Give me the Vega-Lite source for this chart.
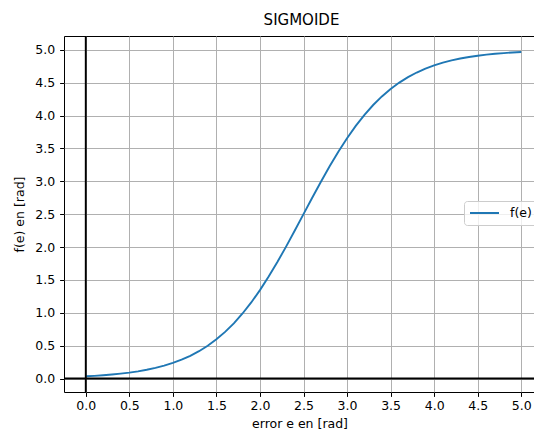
{
  "$schema": "https://vega.github.io/schema/vega-lite/v6.json",
  "autosize": {"type": "none"},
  "width": 471,
  "height": 356,
  "padding": {"left": 64, "top": 36, "right": 0, "bottom": 40},
  "background": "white",
  "config": {
    "view": {"stroke": "#000000", "strokeWidth": 1},
    "font": "DejaVu Sans",
    "axis": {
      "labelFont": "DejaVu Sans",
      "titleFont": "DejaVu Sans",
      "labelFontSize": 12.5,
      "titleFontSize": 12.5,
      "titleFontWeight": "normal",
      "labelColor": "#000000",
      "titleColor": "#000000",
      "domain": false,
      "tickColor": "#000000",
      "tickWidth": 1,
      "tickSize": 4.4,
      "gridColor": "#b0b0b0",
      "gridWidth": 1,
      "gridOpacity": 1,
      "labelOverlap": false
    }
  },
  "title": {
    "text": "SIGMOIDE",
    "font": "DejaVu Sans",
    "fontSize": 15,
    "fontWeight": "normal",
    "color": "#000000",
    "anchor": "middle",
    "offset": 7,
    "dx": 2
  },
  "layer": [
    {
      "data": {
        "values": [
          {"e": 0.0, "f": 0.03346, "serie": "f(e)"},
          {"e": 0.1, "f": 0.04081, "serie": "f(e)"},
          {"e": 0.2, "f": 0.04976, "serie": "f(e)"},
          {"e": 0.3, "f": 0.06064, "serie": "f(e)"},
          {"e": 0.4, "f": 0.07387, "serie": "f(e)"},
          {"e": 0.5, "f": 0.08993, "serie": "f(e)"},
          {"e": 0.6, "f": 0.10941, "serie": "f(e)"},
          {"e": 0.7, "f": 0.13298, "serie": "f(e)"},
          {"e": 0.8, "f": 0.16148, "serie": "f(e)"},
          {"e": 0.9, "f": 0.19583, "serie": "f(e)"},
          {"e": 1.0, "f": 0.23713, "serie": "f(e)"},
          {"e": 1.1, "f": 0.28662, "serie": "f(e)"},
          {"e": 1.2, "f": 0.34569, "serie": "f(e)"},
          {"e": 1.3, "f": 0.41587, "serie": "f(e)"},
          {"e": 1.4, "f": 0.49875, "serie": "f(e)"},
          {"e": 1.5, "f": 0.59601, "serie": "f(e)"},
          {"e": 1.6, "f": 0.70926, "serie": "f(e)"},
          {"e": 1.7, "f": 0.83991, "serie": "f(e)"},
          {"e": 1.8, "f": 0.98908, "serie": "f(e)"},
          {"e": 1.9, "f": 1.15738, "serie": "f(e)"},
          {"e": 2.0, "f": 1.34470, "serie": "f(e)"},
          {"e": 2.1, "f": 1.55013, "serie": "f(e)"},
          {"e": 2.2, "f": 1.77172, "serie": "f(e)"},
          {"e": 2.3, "f": 2.00656, "serie": "f(e)"},
          {"e": 2.4, "f": 2.25083, "serie": "f(e)"},
          {"e": 2.5, "f": 2.50000, "serie": "f(e)"},
          {"e": 2.6, "f": 2.74917, "serie": "f(e)"},
          {"e": 2.7, "f": 2.99344, "serie": "f(e)"},
          {"e": 2.8, "f": 3.22828, "serie": "f(e)"},
          {"e": 2.9, "f": 3.44987, "serie": "f(e)"},
          {"e": 3.0, "f": 3.65530, "serie": "f(e)"},
          {"e": 3.1, "f": 3.84262, "serie": "f(e)"},
          {"e": 3.2, "f": 4.01092, "serie": "f(e)"},
          {"e": 3.3, "f": 4.16009, "serie": "f(e)"},
          {"e": 3.4, "f": 4.29074, "serie": "f(e)"},
          {"e": 3.5, "f": 4.40399, "serie": "f(e)"},
          {"e": 3.6, "f": 4.50125, "serie": "f(e)"},
          {"e": 3.7, "f": 4.58413, "serie": "f(e)"},
          {"e": 3.8, "f": 4.65431, "serie": "f(e)"},
          {"e": 3.9, "f": 4.71338, "serie": "f(e)"},
          {"e": 4.0, "f": 4.76287, "serie": "f(e)"},
          {"e": 4.1, "f": 4.80417, "serie": "f(e)"},
          {"e": 4.2, "f": 4.83852, "serie": "f(e)"},
          {"e": 4.3, "f": 4.86702, "serie": "f(e)"},
          {"e": 4.4, "f": 4.89059, "serie": "f(e)"},
          {"e": 4.5, "f": 4.91007, "serie": "f(e)"},
          {"e": 4.6, "f": 4.92613, "serie": "f(e)"},
          {"e": 4.7, "f": 4.93936, "serie": "f(e)"},
          {"e": 4.8, "f": 4.95024, "serie": "f(e)"},
          {"e": 4.9, "f": 4.95919, "serie": "f(e)"},
          {"e": 5.0, "f": 4.96654, "serie": "f(e)"}
        ]
      },
      "mark": {"type": "line", "strokeWidth": 1.9, "clip": true},
      "encoding": {
        "x": {
          "field": "e",
          "type": "quantitative",
          "scale": {"domain": [-0.25, 5.158], "nice": false, "zero": false},
          "axis": {
            "title": "error e en [rad]",
            "values": [0, 0.5, 1, 1.5, 2, 2.5, 3, 3.5, 4, 4.5, 5],
            "format": ".1f",
            "labelPadding": 3,
            "titlePadding": 6,
            "grid": true
          }
        },
        "y": {
          "field": "f",
          "type": "quantitative",
          "scale": {"domain": [-0.205, 5.21], "nice": false, "zero": false},
          "axis": {
            "title": "f(e) en [rad]",
            "values": [0, 0.5, 1, 1.5, 2, 2.5, 3, 3.5, 4, 4.5, 5],
            "format": ".1f",
            "labelPadding": 5,
            "titlePadding": 8,
            "grid": true
          }
        },
        "color": {
          "field": "serie",
          "type": "nominal",
          "scale": {"range": ["#1f77b4"]},
          "legend": {
            "title": null,
            "orient": "none",
            "legendX": 400,
            "legendY": 165,
            "symbolType": "stroke",
            "symbolSize": 841,
            "symbolStrokeWidth": 1.9,
            "clipHeight": 14,
            "labelFont": "DejaVu Sans",
            "labelFontSize": 12.5,
            "labelColor": "#000000",
            "labelOffset": 10,
            "padding": 5,
            "fillColor": "rgba(255,255,255,0.8)",
            "strokeColor": "#cccccc",
            "cornerRadius": 3
          }
        }
      }
    },
    {
      "data": {"values": [{"v": 0}]},
      "mark": {"type": "rule", "color": "#000000", "strokeWidth": 1.9},
      "encoding": {
        "x": {
          "field": "v",
          "type": "quantitative",
          "axis": {
            "title": "error e en [rad]",
            "values": [0, 0.5, 1, 1.5, 2, 2.5, 3, 3.5, 4, 4.5, 5],
            "format": ".1f",
            "labelPadding": 3,
            "titlePadding": 6,
            "grid": true
          }
        }
      }
    },
    {
      "data": {"values": [{"v": 0}]},
      "mark": {"type": "rule", "color": "#000000", "strokeWidth": 1.9},
      "encoding": {
        "y": {
          "field": "v",
          "type": "quantitative",
          "axis": {
            "title": "f(e) en [rad]",
            "values": [0, 0.5, 1, 1.5, 2, 2.5, 3, 3.5, 4, 4.5, 5],
            "format": ".1f",
            "labelPadding": 5,
            "titlePadding": 8,
            "grid": true
          }
        }
      }
    }
  ]
}
